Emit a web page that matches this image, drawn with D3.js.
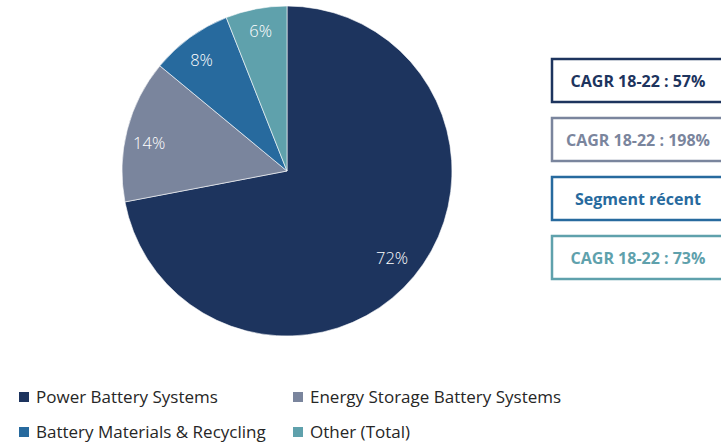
<!DOCTYPE html>
<html>
<head>
	<meta charset="utf-8">
	<script src="https://d3js.org/d3.v7.min.js"></script>
	<style type="text/css">
		body {
			margin: 0;
			background: #fff;
			font-family: "Open Sans", "Lato", sans-serif;
		}
		svg {
			display: block;
		}
		.slice-label {
			fill: #fff;
			font-size: 16.5px;
			font-weight: 300;
		}
		.box-label {
			font-size: 16px;
			font-weight: 700;
		}
		.legend-label {
			fill: #262626;
			font-size: 17px;
		}
	</style>
</head>
<body>
<div id="chart"></div>
<script>
	// segments, share in %
	var segments = ["Power Battery Systems", "Energy Storage Battery Systems", "Battery Materials & Recycling", "Other (Total)"];
	var shares = [72, 14, 8, 6];
	var colors = ["#1d345e", "#7a859d", "#276a9e", "#5fa1ac"];

	// annotation boxes on the right
	var boxTexts = ["CAGR 18-22 : 57%", "CAGR 18-22 : 198%", "Segment récent", "CAGR 18-22 : 73%"];

	var width = 721, height = 442;
	var cx = 287, cy = 171, radius = 165;

	var svg = d3.select("#chart").append("svg")
		.attr("width", width)
		.attr("height", height);

	var pie = d3.pie().sort(null).value(function(d) { return d; });
	var arc = d3.arc().innerRadius(0).outerRadius(radius);
	var labelArc = d3.arc().innerRadius(radius * 0.85).outerRadius(radius * 0.85);

	var arcs = pie(shares);

	var g = svg.append("g").attr("transform", "translate(" + cx + "," + cy + ")");

	g.selectAll("path")
		.data(arcs)
		.enter()
		.append("path")
		.attr("d", arc)
		.attr("fill", function(d, i) { return colors[i]; })
		.attr("stroke", "#fff")
		.attr("stroke-width", 0.6);

	// small nudges so labels sit like the original ("best fit")
	var nudge = [[-3, -2], [-2, 7], [-3, 3], [0, -2]];
	g.selectAll(".slice-label")
		.data(arcs)
		.enter()
		.append("text")
		.attr("class", "slice-label")
		.attr("text-anchor", "middle")
		.attr("dy", "0.35em")
		.attr("transform", function(d, i) {
			var c = labelArc.centroid(d);
			return "translate(" + (c[0] + nudge[i][0]) + "," + (c[1] + nudge[i][1]) + ")";
		})
		.text(function(d) { return d.data + "%"; });

	// right boxes
	var boxY = d3.scaleLinear().domain([0, 3]).range([59, 236]);
	var boxes = svg.selectAll(".box")
		.data(boxTexts)
		.enter()
		.append("g")
		.attr("transform", function(d, i) { return "translate(552," + boxY(i) + ")"; });

	boxes.append("rect")
		.attr("width", 180)
		.attr("height", 43)
		.attr("fill", "#fff")
		.attr("stroke", function(d, i) { return colors[i]; })
		.attr("stroke-width", 2.5);

	boxes.append("text")
		.attr("class", "box-label")
		.attr("x", 86)
		.attr("y", 22)
		.attr("dy", "0.35em")
		.attr("text-anchor", "middle")
		.attr("fill", function(d, i) { return colors[i]; })
		.text(function(d) { return d; });

	// legend
	var legend = svg.selectAll(".legend")
		.data(segments)
		.enter()
		.append("g")
		.attr("transform", function(d, i) {
			var x = (i % 2) ? 293 : 19;
			var y = i < 2 ? 392 : 427;
			return "translate(" + x + "," + y + ")";
		});

	legend.append("rect")
		.attr("width", 10)
		.attr("height", 10)
		.attr("fill", function(d, i) { return colors[i]; });

	legend.append("text")
		.attr("class", "legend-label")
		.attr("x", 17)
		.attr("y", 5)
		.attr("dy", "0.35em")
		.text(function(d) { return d; });
</script>
</body>
</html>
